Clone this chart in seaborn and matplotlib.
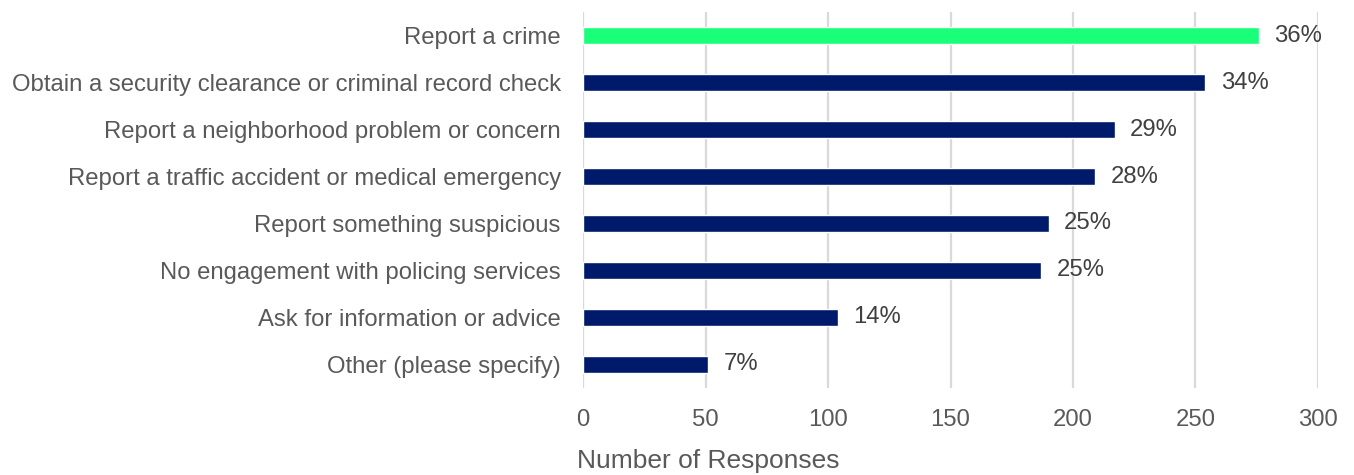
import matplotlib
matplotlib.use("Agg")
import matplotlib.pyplot as plt
import seaborn as sns
import pandas as pd

# Survey: reasons for contacting policing services
categories = [
    "Report a crime",
    "Obtain a security clearance or criminal record check",
    "Report a neighborhood problem or concern",
    "Report a traffic accident or medical emergency",
    "Report something suspicious",
    "No engagement with policing services",
    "Ask for information or advice",
    "Other (please specify)",
]
responses = [276, 254, 217, 209, 190, 187, 104, 51]
percent_labels = ["36%", "34%", "29%", "28%", "25%", "25%", "14%", "7%"]
x_ticks = [0, 50, 100, 150, 200, 250, 300]

bar_colors = ["#19FF7A"] + ["#001A6B"] * 7

sns.set_theme(style="white")
plt.rcParams["font.family"] = ["Liberation Sans", "DejaVu Sans"]

df = pd.DataFrame({"category": categories, "responses": responses})

fig = plt.figure(figsize=(13.54, 4.75), dpi=100)
ax = fig.add_axes([0.4306, 0.1832, 0.5428, 0.7915])

sns.barplot(
    data=df, y="category", x="responses", hue="category",
    palette=bar_colors, orient="h", width=0.35, legend=False,
    saturation=1, ax=ax,
)

# percentage labels at the end of each bar
for cont, lab in zip(ax.containers, percent_labels):
    ax.bar_label(cont, labels=[lab], padding=11, fontsize=17.2,
                 color="#404040")

ax.set_xlim(0, 300)
ax.set_ylim(7.5, -0.5)
ax.set_xticks(x_ticks)
ax.xaxis.grid(True, color="#D9D9D9", linewidth=1.6)
ax.set_axisbelow(True)
for s in ax.spines.values():
    s.set_visible(False)

ax.tick_params(axis="y", length=0, pad=16, labelsize=17.2, labelcolor="#595959")
ax.tick_params(axis="x", length=0, pad=15, labelsize=17.2, labelcolor="#595959")
ax.set_ylabel("")
ax.set_xlabel("")
fig.text(577 / 1354, 1 - 461 / 475, "Number of Responses", fontsize=19,
         color="#595959", ha="left", va="center")

fig.savefig("out.png", dpi=100)
